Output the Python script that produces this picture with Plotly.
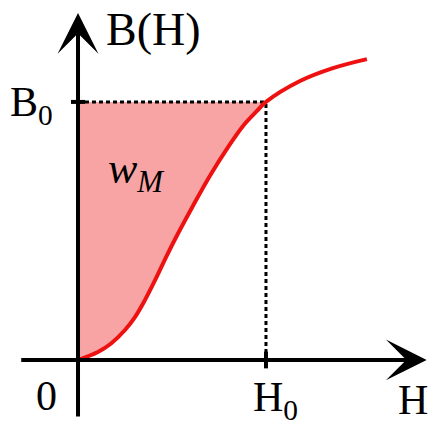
import plotly.graph_objects as go

# Magnetization curve B(H), normalized so that H0 = 1 and B0 = 1
H_values = [0.0, 0.106, 0.176, 0.25, 0.303, 0.356, 0.41, 0.468, 0.532,
            0.612, 0.702, 0.793, 0.878, 0.952, 1.0, 1.181, 1.356, 1.537]
B_values = [0.0, 0.031, 0.064, 0.116, 0.166, 0.232, 0.309, 0.398, 0.49,
            0.598, 0.714, 0.819, 0.907, 0.965, 1.0, 1.081, 1.131, 1.166]
H0 = 1.0
B0 = 1.0
n_fill = H_values.index(H0) + 1

RED = "#ee1111"
PINK = "#f9a4a4"
FONT = "Liberation Serif"

fig = go.Figure()

# filled energy area between B-axis and curve, up to B0
fig.add_trace(go.Scatter(
    x=H_values[:n_fill], y=B_values[:n_fill], mode="lines",
    line=dict(width=0, shape="spline", color=PINK),
    fill="tozerox", fillcolor=PINK, hoverinfo="skip", showlegend=False))

# dotted guide lines
fig.add_trace(go.Scatter(x=[0, H0], y=[B0, B0], mode="lines",
                         line=dict(color="black", width=3, dash="4px,3px"),
                         showlegend=False, hoverinfo="skip"))
fig.add_trace(go.Scatter(x=[H0, H0], y=[0, B0], mode="lines",
                         line=dict(color="black", width=3, dash="4px,3px"),
                         showlegend=False, hoverinfo="skip"))

# curve
fig.add_trace(go.Scatter(x=H_values, y=B_values, mode="lines",
                         line=dict(color=RED, width=4, shape="spline"),
                         showlegend=False))

# tick marks at H0 and B0
fig.add_trace(go.Scatter(x=[H0], y=[0], mode="markers",
                         marker=dict(symbol="line-ns", size=12,
                                     line=dict(color="black", width=4)),
                         showlegend=False, hoverinfo="skip"))
fig.add_trace(go.Scatter(x=[0], y=[B0], mode="markers",
                         marker=dict(symbol="line-ew", size=10,
                                     line=dict(color="black", width=4)),
                         showlegend=False, hoverinfo="skip"))

x_range = [-0.415, 1.862]
y_range = [-0.252, 1.395]

# axes with arrows
fig.add_annotation(x=1.855, y=0, ax=-0.31, ay=0, axref="x", ayref="y",
                   xref="x", yref="y", text="", showarrow=True,
                   arrowhead=3, arrowwidth=4, arrowsize=1.7, arrowcolor="black")
fig.add_annotation(x=0, y=1.345, ax=0, ay=-0.225, axref="x", ayref="y",
                   xref="x", yref="y", text="", showarrow=True,
                   arrowhead=3, arrowwidth=4, arrowsize=1.7, arrowcolor="black")

def label(text, x, y, size, xanchor="center", yanchor="middle"):
    fig.add_annotation(x=x, y=y, xref="x", yref="y", text=text, showarrow=False,
                       font=dict(family=FONT, size=size, color="black"),
                       xanchor=xanchor, yanchor=yanchor)

label("B(H)", 0.14, 1.28, 46, xanchor="left")
label("B<sub>0</sub>", -0.12, 0.99, 42, xanchor="right")
label("0", -0.165, -0.14, 42)
label("H<sub>0</sub>", 0.92, -0.155, 42, xanchor="left")
label("H", 1.69, -0.155, 42, xanchor="left")
label("<i>w<sub>M</sub></i>", 0.15, 0.73, 44, xanchor="left")

fig.update_xaxes(range=x_range, visible=False, showgrid=False, zeroline=False)
fig.update_yaxes(range=y_range, visible=False, showgrid=False, zeroline=False)
fig.update_layout(width=428, height=425, margin=dict(l=0, r=0, t=0, b=0),
                  paper_bgcolor="white", plot_bgcolor="white", showlegend=False)

fig.write_html("out.html", config={"displayModeBar": False},
               post_script="document.body.style.margin='0';")
